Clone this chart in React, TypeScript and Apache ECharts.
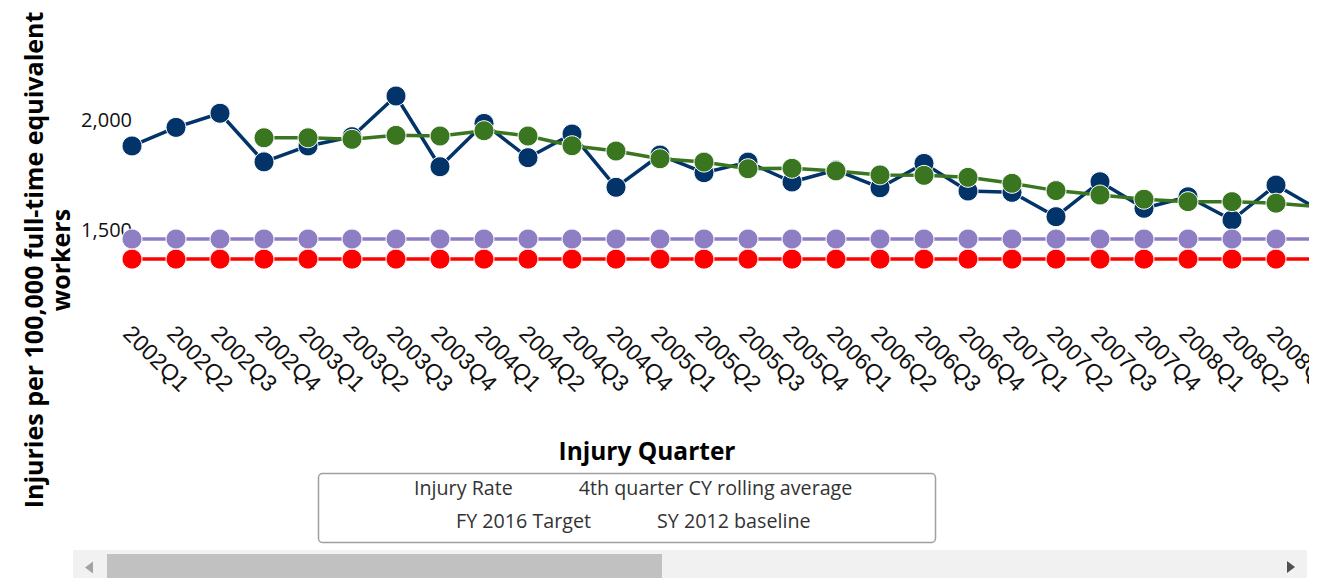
import React, { useEffect, useRef } from 'react';
import * as echarts from 'echarts';

const categories = [
  '2002Q1', '2002Q2', '2002Q3', '2002Q4',
  '2003Q1', '2003Q2', '2003Q3', '2003Q4',
  '2004Q1', '2004Q2', '2004Q3', '2004Q4',
  '2005Q1', '2005Q2', '2005Q3', '2005Q4',
  '2006Q1', '2006Q2', '2006Q3', '2006Q4',
  '2007Q1', '2007Q2', '2007Q3', '2007Q4',
  '2008Q1', '2008Q2', '2008Q3', '2008Q4',
];

const injuryRate = [
  1878, 1962, 2026, 1806,
  1878, 1920, 2104, 1784,
  1980, 1825, 1932, 1691,
  1837, 1757, 1805, 1715,
  1769, 1689, 1799, 1674,
  1668, 1558, 1716, 1596,
  1648, 1543, 1701, 1586,
];

const rollingAverage = [
  null, null, null, 1915,
  1915, 1908, 1926, 1923,
  1947, 1923, 1879, 1855,
  1820, 1805, 1775, 1777,
  1765, 1747, 1745, 1736,
  1709, 1676, 1656, 1637,
  1626, 1626, 1619, 1603,
];

const fy2016Target = [
  1366, 1366, 1366, 1366, 1366, 1366, 1366, 1366,
  1366, 1366, 1366, 1366, 1366, 1366, 1366, 1366,
  1366, 1366, 1366, 1366, 1366, 1366, 1366, 1366,
  1366, 1366, 1366, 1366,
];

const sy2012Baseline = [
  1457, 1457, 1457, 1457, 1457, 1457, 1457, 1457,
  1457, 1457, 1457, 1457, 1457, 1457, 1457, 1457,
  1457, 1457, 1457, 1457, 1457, 1457, 1457, 1457,
  1457, 1457, 1457, 1457,
];

const yTickLabels = [1500, 2000];

const NAVY = '#02346a';
const GREEN = '#3a7620';
const RED = '#ff0000';
const PURPLE = '#8e7fc4';

function lineSeries(name: string, data: (number | null)[], color: string) {
  return {
    name,
    type: 'line',
    data,
    symbol: 'circle',
    symbolSize: 20,
    showAllSymbol: true,
    connectNulls: false,
    lineStyle: { color, width: 3.5 },
    itemStyle: { color, borderColor: '#ffffff', borderWidth: 1 },
    emphasis: { disabled: true },
  };
}

export default function App() {
  const ref = useRef<HTMLDivElement>(null);

  useEffect(() => {
    if (!ref.current) return;
    const chart = echarts.init(ref.current, null, { renderer: 'svg' });
    const legendText = { fontFamily: 'Open Sans', fontSize: 19.7, color: '#333333' };
    chart.setOption({
      animation: false,
      backgroundColor: '#ffffff',
      grid: {
        left: 132,
        right: 0,
        top: 8.5,
        height: 287.3,
        containLabel: false,
        outerBoundsMode: 'none',
      },
      xAxis: {
        type: 'category',
        data: categories,
        boundaryGap: false,
        axisLine: { show: false },
        axisTick: { show: false },
        splitLine: { show: false },
        axisLabel: {
          interval: 0,
          rotate: -45,
          margin: 22,
          verticalAlign: 'top',
          padding: [0, 0, 0, 5],
          fontFamily: 'Liberation Sans',
          fontSize: 23,
          color: '#111111',
          hideOverlap: false,
          // the last category sits past the visible edge of the scrolled plot
          formatter: (v: string, i: number) => (i === categories.length - 1 ? '' : v),
        },
      },
      yAxis: {
        type: 'value',
        min: 1200,
        max: 2500,
        axisLine: { show: false },
        axisTick: { show: false },
        splitLine: { show: false },
        axisLabel: {
          customValues: yTickLabels,
          margin: 0,
          fontFamily: 'Open Sans',
          fontSize: 20,
          color: '#111111',
          formatter: (v: number) => v.toLocaleString('en-US'),
        },
      },
      legend: [
        {
          data: ['Injury Rate', '4th quarter CY rolling average'],
          left: 408,
          top: 477,
          padding: 0,
          itemWidth: 0,
          itemHeight: 0,
          itemGap: 60,
          itemStyle: { opacity: 0 },
          lineStyle: { opacity: 0 },
          textStyle: legendText,
          selectedMode: false,
        },
        {
          data: ['FY 2016 Target', 'SY 2012 baseline'],
          left: 450,
          top: 510,
          padding: 0,
          itemWidth: 0,
          itemHeight: 0,
          itemGap: 60,
          itemStyle: { opacity: 0 },
          lineStyle: { opacity: 0 },
          textStyle: legendText,
          selectedMode: false,
        },
      ],
      series: [
        lineSeries('Injury Rate', injuryRate, NAVY),
        lineSeries('4th quarter CY rolling average', rollingAverage, GREEN),
        lineSeries('FY 2016 Target', fy2016Target, RED),
        lineSeries('SY 2012 baseline', sy2012Baseline, PURPLE),
      ],
      graphic: [
        {
          type: 'rect',
          z: 100,
          shape: { x: 1309, y: 0, width: 11, height: 548 },
          style: { fill: '#ffffff' },
          silent: true,
        },
        {
          type: 'text',
          z: 100,
          x: 46.5,
          y: 260,
          rotation: Math.PI / 2,
          style: {
            text: 'Injuries per 100,000 full-time equivalent\nworkers',
            fontFamily: 'Open Sans',
            fontWeight: 'bold',
            fontSize: 25,
            lineHeight: 27,
            fill: '#000000',
            align: 'center',
            verticalAlign: 'middle',
          },
        },
        {
          type: 'text',
          z: 100,
          x: 647,
          y: 450,
          style: {
            text: 'Injury Quarter',
            fontFamily: 'Open Sans',
            fontWeight: 'bold',
            fontSize: 24.5,
            fill: '#000000',
            align: 'center',
            verticalAlign: 'middle',
          },
        },
        {
          type: 'rect',
          z: 100,
          shape: { x: 318.5, y: 473.5, width: 617, height: 69, r: 4 },
          style: { fill: 'none', stroke: '#a0a0a0', lineWidth: 1.5 },
          silent: true,
        },
        {
          type: 'rect',
          z: 100,
          shape: { x: 73, y: 550, width: 1234, height: 28 },
          style: { fill: '#f1f1f1' },
          silent: true,
        },
        {
          type: 'rect',
          z: 101,
          shape: { x: 107, y: 554, width: 555, height: 24 },
          style: { fill: '#c1c1c1' },
          silent: true,
        },
        {
          type: 'polygon',
          z: 101,
          shape: { points: [[93, 561.5], [93, 573.5], [85, 567.5]] },
          style: { fill: '#a3a3a3' },
          silent: true,
        },
        {
          type: 'polygon',
          z: 101,
          shape: { points: [[1287, 561], [1287, 573], [1295, 567]] },
          style: { fill: '#505050' },
          silent: true,
        },
      ],
    });
    return () => chart.dispose();
  }, []);

  return (
    <div
      ref={ref}
      style={{ position: 'fixed', left: 0, top: 0, width: 1320, height: 578, background: '#ffffff' }}
    />
  );
}
